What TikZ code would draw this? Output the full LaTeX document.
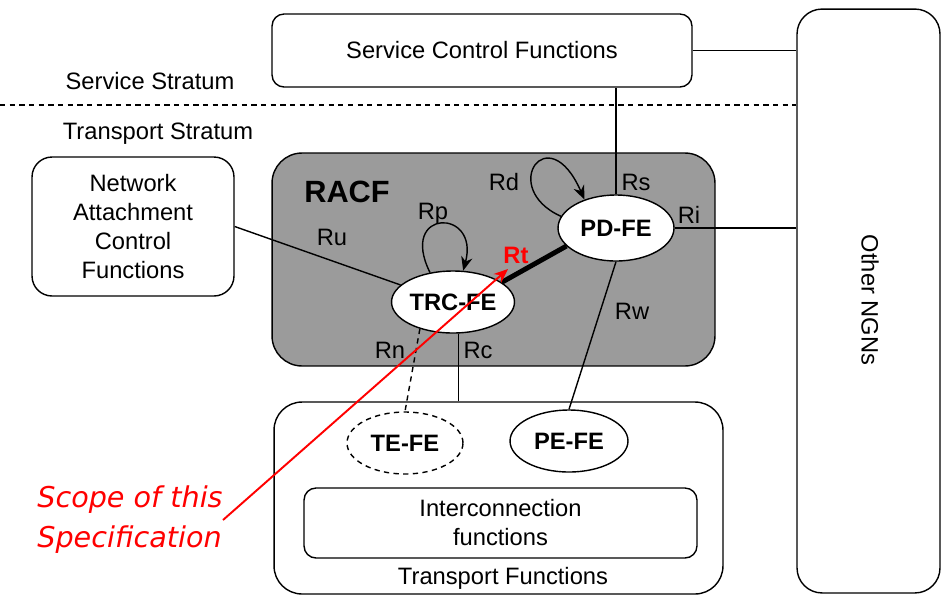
\documentclass[tikz,border=0pt]{standalone}
\usepackage{fontspec}
\setmainfont{Liberation Sans}
\newfontfamily\scopefont{DejaVu Sans}
\usepackage{xcolor}
\usepackage{tikz}
\usetikzlibrary{calc,arrows,arrows.meta,shapes,positioning}

\definecolor{racfgray}{RGB}{155,155,155}

\tikzset{
  fbox/.style={draw, line width=0.8pt, rounded corners=0.24cm, align=center, inner sep=0pt},
  fe/.style={draw, ellipse, fill=white, line width=0.8pt, font=\fontsize{13.5}{16.5}\selectfont\bfseries,
    minimum width=2.32cm, minimum height=1.24cm, inner sep=0pt},
  link/.style={line width=0.8pt},
  dsh/.style={dash pattern=on 3pt off 2.5pt}
}

\begin{document}
\begin{tikzpicture}[x=0.02cm,y=-0.02cm,font=\fontsize{13.5}{16.5}\selectfont,>={Stealth[length=8pt,width=6.5pt]}]

\useasboundingbox (0,0) rectangle (942,596);

% boxes
\node[fbox, fill=racfgray, rounded corners=0.6cm, minimum width=8.86cm, minimum height=4.26cm] (racf) at (493.5,259.5) {};
\node[font=\fontsize{17.5}{20}\selectfont\bfseries] (racflbl) at (347,192) {RACF};

\node[fbox, minimum width=8.4cm, minimum height=1.46cm] (scf) at (482,50.5) {Service Control Functions};
\node[fbox, rounded corners=0.5cm, minimum width=2.86cm, minimum height=11.68cm] (ngn) at (868.5,301) {};
\node[rotate=-90] (ngnlbl) at (870,300) {Other NGNs};
\node[fbox, rounded corners=0.4cm, minimum width=4.04cm, minimum height=2.78cm] (nacf) at (133,226.5)
  {Network\\Attachment\\Control\\Functions};
\node[fbox, rounded corners=0.56cm, minimum width=8.98cm, minimum height=3.84cm] (tf) at (498.5,498) {};
\node (tflbl) at (503,578) {Transport Functions};
\node[fbox, minimum width=7.86cm, minimum height=1.4cm] (ic) at (500.5,523) {Interconnection\\functions};

\node (serv) at (150,81) {Service Stratum};
\node (trans) at (158,134) {Transport Stratum};

% functional entities
\node[fe, minimum height=1.32cm] (pd) at (616,228) {PD-FE};
\node[fe] (trc) at (453,302) {TRC-FE};
\node[fe, dsh] (te) at (405,443) {TE-FE};
\node[fe, minimum width=2.36cm] (pe) at (569,441) {PE-FE};

% reference points
\coordinate (strat) at (0,105);
\draw[link, dsh] (strat) -- (strat -| ngn.west);

\draw[link] (scf.east) -- (scf.east -| ngn.west);
\draw[link] (pd.north) -- (pd.north |- scf.south);
\draw[link] (pd.east) -- (pd.east -| ngn.west);
\draw[link] (nacf.east) -- (trc.162);
\draw[line width=2.8pt] (trc.22) -- (pd.200);
\draw[link] (trc.-80) -- (trc.-80 |- tf.north);
\draw[link, dsh] (trc.219) -- (te.north);
\draw[link] (pd.south) -- (pe.north);
\draw[link] ($(tf.east)+(0,-13)$) -- ($(tf.east)+(0,-13)$ -| ngn.west);

\draw[link,->] (trc.128) .. controls (398,208) and (480,208) .. (trc.72);
\draw[link,->] (pd.168) .. controls (498,188) and (548,116) .. (pd.138);

\node (rd) at (504,182) {Rd};
\node (rs) at (636,182) {Rs};
\node (ri) at (689,215) {Ri};
\node (rp) at (433,214) {Rp};
\node (ru) at (332,237) {Ru};
\node (rw) at (632,311) {Rw};
\node (rn) at (390,350) {Rn};
\node (rc) at (478,350) {Rc};
\node[red, font=\fontsize{13.5}{16.5}\selectfont\bfseries] (rt) at (516,255) {Rt};

% scope
\node[red, align=left, inner sep=0pt, font=\scopefont\itshape\fontsize{16.3}{22.7}\selectfont] (scope) at (130,520)
  {Scope of this\\Specification};
\coordinate (rtend) at (508,269);
\draw[red, line width=1.1pt, ->] (scope.east) -- (rtend);

\end{tikzpicture}
\end{document}
